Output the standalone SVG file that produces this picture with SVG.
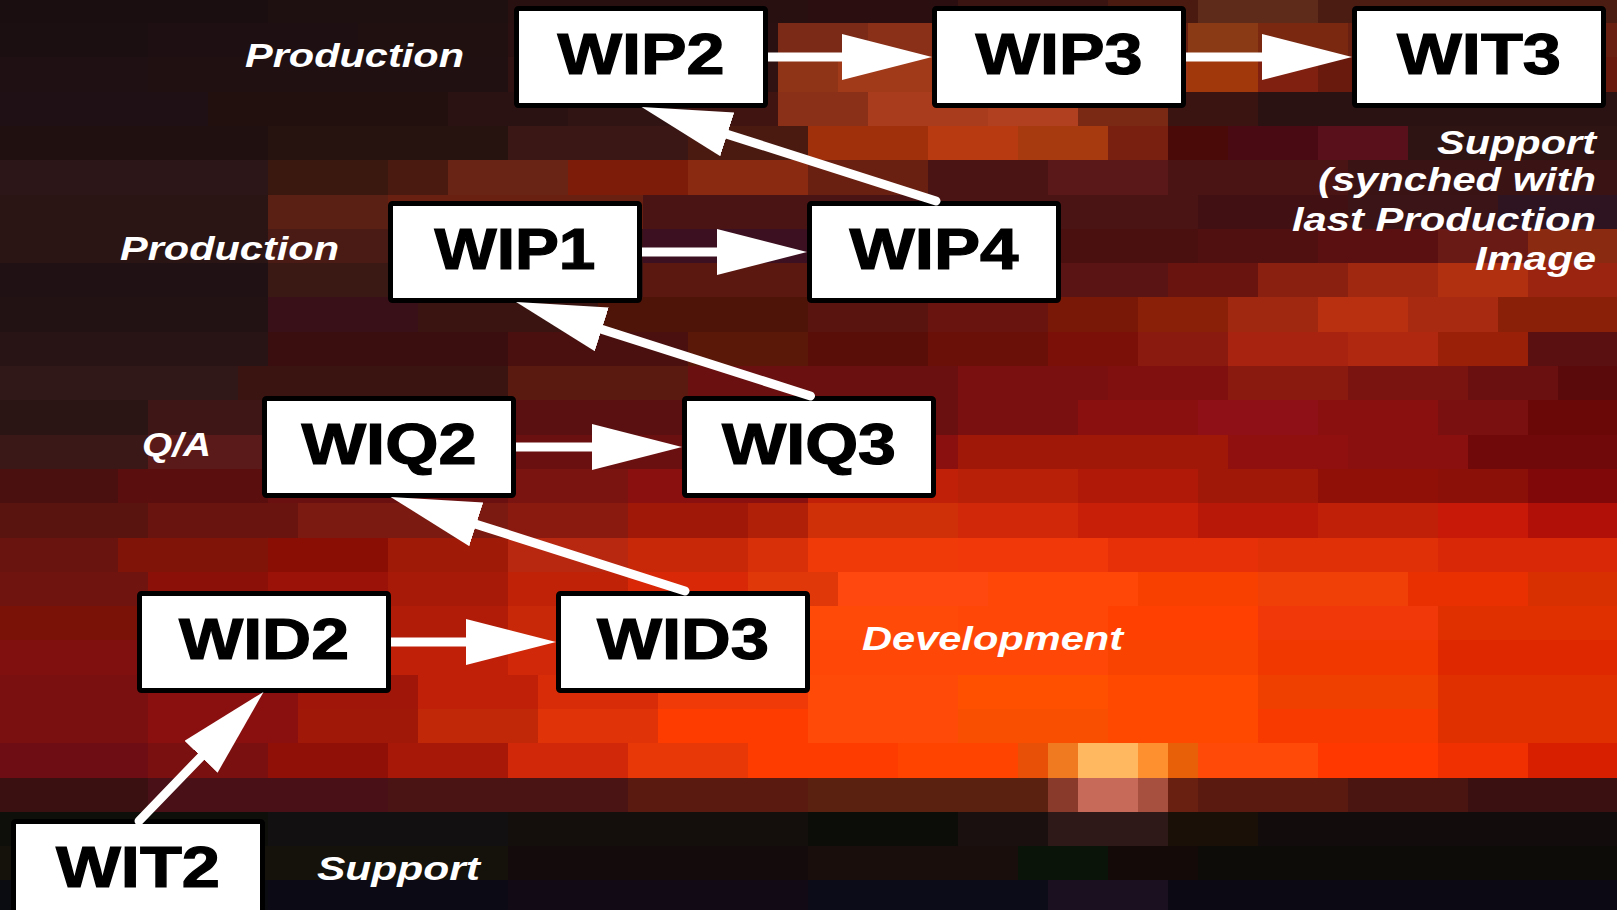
<svg xmlns="http://www.w3.org/2000/svg" width="1617" height="910" viewBox="0 0 1617 910">
<style>
.box{fill:#fff;stroke:#000;stroke-width:5;}
.nt{font-family:"Liberation Sans",Arial,sans-serif;font-weight:bold;font-size:57px;fill:#000;stroke:#000;stroke-width:1.2;text-anchor:middle;}
.lb{font-family:"Liberation Sans",Arial,sans-serif;font-weight:bold;font-style:italic;font-size:33px;fill:#fff;}
.cn{stroke:#fff;stroke-width:9;fill:none;marker-end:url(#ah);}
.dg{stroke-linecap:round;}
</style>
<defs>
<marker id="ah" markerUnits="userSpaceOnUse" markerWidth="92" markerHeight="50" refX="2" refY="23" orient="auto" viewBox="0 0 92 50">
<path d="M0,0 L90,23 L0,46 z" fill="#fff"/>
</marker>
</defs>
<g id="background">
<rect x="0" y="0" width="1617" height="910" fill="#2a1010"/>
<rect x="0" y="0" width="268" height="23" fill="#1b0e11"/><rect x="268" y="0" width="240" height="23" fill="#1e0f10"/><rect x="508" y="0" width="300" height="23" fill="#281010"/><rect x="808" y="0" width="150" height="23" fill="#2a0e10"/><rect x="958" y="0" width="150" height="23" fill="#3a1410"/><rect x="1108" y="0" width="90" height="23" fill="#4a1a10"/><rect x="1198" y="0" width="120" height="23" fill="#5e2a1a"/><rect x="1318" y="0" width="299" height="23" fill="#4a1c12"/>
<rect x="0" y="23" width="148" height="34" fill="#1c0f12"/><rect x="148" y="23" width="210" height="34" fill="#1e1012"/><rect x="358" y="23" width="150" height="34" fill="#201010"/><rect x="508" y="23" width="270" height="34" fill="#2a1010"/><rect x="778" y="23" width="90" height="34" fill="#7a2a16"/><rect x="868" y="23" width="90" height="34" fill="#8a3018"/><rect x="958" y="23" width="230" height="34" fill="#6a2010"/><rect x="1188" y="23" width="70" height="34" fill="#8a3a14"/><rect x="1258" y="23" width="90" height="34" fill="#7a2810"/><rect x="1348" y="23" width="269" height="34" fill="#6a2010"/>
<rect x="0" y="57" width="148" height="35" fill="#1e1013"/><rect x="148" y="57" width="360" height="35" fill="#201012"/><rect x="508" y="57" width="270" height="35" fill="#301212"/><rect x="778" y="57" width="60" height="35" fill="#903418"/><rect x="838" y="57" width="120" height="35" fill="#a03a18"/><rect x="958" y="57" width="230" height="35" fill="#a03818"/><rect x="1188" y="57" width="70" height="35" fill="#a0380c"/><rect x="1258" y="57" width="60" height="35" fill="#802010"/><rect x="1318" y="57" width="299" height="35" fill="#6a1a0c"/>
<rect x="0" y="92" width="208" height="34" fill="#1e1014"/><rect x="208" y="92" width="240" height="34" fill="#22100f"/><rect x="448" y="92" width="120" height="34" fill="#2a1212"/><rect x="568" y="92" width="120" height="34" fill="#301414"/><rect x="688" y="92" width="90" height="34" fill="#401410"/><rect x="778" y="92" width="90" height="34" fill="#8a3018"/><rect x="868" y="92" width="120" height="34" fill="#a83c1c"/><rect x="988" y="92" width="90" height="34" fill="#b04020"/><rect x="1078" y="92" width="90" height="34" fill="#7a2a14"/><rect x="1168" y="92" width="90" height="34" fill="#3a1410"/><rect x="1258" y="92" width="359" height="34" fill="#2a1212"/>
<rect x="0" y="126" width="268" height="34" fill="#20100f"/><rect x="268" y="126" width="240" height="34" fill="#26120f"/><rect x="508" y="126" width="180" height="34" fill="#3a1614"/><rect x="688" y="126" width="120" height="34" fill="#4a1a10"/><rect x="808" y="126" width="120" height="34" fill="#a0300c"/><rect x="928" y="126" width="90" height="34" fill="#b83a10"/><rect x="1018" y="126" width="90" height="34" fill="#a83a10"/><rect x="1108" y="126" width="60" height="34" fill="#7a2010"/><rect x="1168" y="126" width="60" height="34" fill="#4a0a08"/><rect x="1228" y="126" width="90" height="34" fill="#4a0a14"/><rect x="1318" y="126" width="90" height="34" fill="#5a101a"/><rect x="1408" y="126" width="209" height="34" fill="#2e1412"/>
<rect x="0" y="160" width="268" height="35" fill="#2c1618"/><rect x="268" y="160" width="120" height="35" fill="#3a1810"/><rect x="388" y="160" width="60" height="35" fill="#4a1a10"/><rect x="448" y="160" width="120" height="35" fill="#6a2416"/><rect x="568" y="160" width="120" height="35" fill="#7e1c0a"/><rect x="688" y="160" width="120" height="35" fill="#8a2a10"/><rect x="808" y="160" width="120" height="35" fill="#6a2010"/><rect x="928" y="160" width="120" height="35" fill="#4a1414"/><rect x="1048" y="160" width="120" height="35" fill="#5a1818"/><rect x="1168" y="160" width="180" height="35" fill="#4a1414"/><rect x="1348" y="160" width="269" height="35" fill="#3a1414"/>
<rect x="0" y="195" width="268" height="34" fill="#2a1414"/><rect x="268" y="195" width="120" height="34" fill="#5a2014"/><rect x="388" y="195" width="255" height="34" fill="#6a2010"/><rect x="643" y="195" width="555" height="34" fill="#4a1414"/><rect x="1198" y="195" width="150" height="34" fill="#401012"/><rect x="1348" y="195" width="150" height="34" fill="#3a1416"/><rect x="1498" y="195" width="119" height="34" fill="#2e1420"/>
<rect x="0" y="229" width="268" height="34" fill="#2a1414"/><rect x="268" y="229" width="120" height="34" fill="#4a1a14"/><rect x="388" y="229" width="255" height="34" fill="#3a1414"/><rect x="643" y="229" width="165" height="34" fill="#3c1020"/><rect x="808" y="229" width="390" height="34" fill="#4a1010"/><rect x="1198" y="229" width="120" height="34" fill="#501010"/><rect x="1318" y="229" width="120" height="34" fill="#5a1010"/><rect x="1438" y="229" width="90" height="34" fill="#6a1a14"/><rect x="1528" y="229" width="89" height="34" fill="#8a2a10"/>
<rect x="0" y="263" width="268" height="34" fill="#201214"/><rect x="268" y="263" width="120" height="34" fill="#3a1814"/><rect x="388" y="263" width="255" height="34" fill="#3a1410"/><rect x="643" y="263" width="165" height="34" fill="#5a1810"/><rect x="808" y="263" width="360" height="34" fill="#5a1414"/><rect x="1168" y="263" width="90" height="34" fill="#6a1410"/><rect x="1258" y="263" width="90" height="34" fill="#8a2010"/><rect x="1348" y="263" width="90" height="34" fill="#a02810"/><rect x="1438" y="263" width="90" height="34" fill="#b03010"/><rect x="1528" y="263" width="89" height="34" fill="#9a2410"/>
<rect x="0" y="297" width="268" height="35" fill="#221214"/><rect x="268" y="297" width="150" height="35" fill="#3a1018"/><rect x="418" y="297" width="180" height="35" fill="#3a1410"/><rect x="598" y="297" width="210" height="35" fill="#4e1408"/><rect x="808" y="297" width="120" height="35" fill="#5a1410"/><rect x="928" y="297" width="120" height="35" fill="#6a1410"/><rect x="1048" y="297" width="90" height="35" fill="#7a1808"/><rect x="1138" y="297" width="90" height="35" fill="#8a2008"/><rect x="1228" y="297" width="90" height="35" fill="#a02810"/><rect x="1318" y="297" width="90" height="35" fill="#b83010"/><rect x="1408" y="297" width="90" height="35" fill="#a82a10"/><rect x="1498" y="297" width="119" height="35" fill="#8a2008"/>
<rect x="0" y="332" width="268" height="34" fill="#281414"/><rect x="268" y="332" width="240" height="34" fill="#3a0e0e"/><rect x="508" y="332" width="180" height="34" fill="#4a1010"/><rect x="688" y="332" width="120" height="34" fill="#5a1808"/><rect x="808" y="332" width="120" height="34" fill="#5a0e08"/><rect x="928" y="332" width="120" height="34" fill="#6a1008"/><rect x="1048" y="332" width="90" height="34" fill="#7a1008"/><rect x="1138" y="332" width="90" height="34" fill="#8a1a10"/><rect x="1228" y="332" width="120" height="34" fill="#a82410"/><rect x="1348" y="332" width="90" height="34" fill="#b02810"/><rect x="1438" y="332" width="90" height="34" fill="#9a2008"/><rect x="1528" y="332" width="89" height="34" fill="#5a1010"/>
<rect x="0" y="366" width="238" height="34" fill="#301818"/><rect x="238" y="366" width="270" height="34" fill="#3a1410"/><rect x="508" y="366" width="180" height="34" fill="#5a1a10"/><rect x="688" y="366" width="270" height="34" fill="#6a1010"/><rect x="958" y="366" width="150" height="34" fill="#7a1010"/><rect x="1108" y="366" width="120" height="34" fill="#801010"/><rect x="1228" y="366" width="120" height="34" fill="#8a1a10"/><rect x="1348" y="366" width="120" height="34" fill="#7a1410"/><rect x="1468" y="366" width="90" height="34" fill="#6a1010"/><rect x="1558" y="366" width="59" height="34" fill="#5a0a0a"/>
<rect x="0" y="400" width="148" height="35" fill="#2a1414"/><rect x="148" y="400" width="120" height="35" fill="#3e1616"/><rect x="268" y="400" width="420" height="35" fill="#5a1010"/><rect x="688" y="400" width="270" height="35" fill="#6a1010"/><rect x="958" y="400" width="120" height="35" fill="#7a1010"/><rect x="1078" y="400" width="120" height="35" fill="#8a1010"/><rect x="1198" y="400" width="120" height="35" fill="#901018"/><rect x="1318" y="400" width="120" height="35" fill="#8a1010"/><rect x="1438" y="400" width="90" height="35" fill="#7a1010"/><rect x="1528" y="400" width="89" height="35" fill="#6a0808"/>
<rect x="0" y="435" width="148" height="34" fill="#3a1818"/><rect x="148" y="435" width="120" height="34" fill="#5a1a1a"/><rect x="268" y="435" width="420" height="34" fill="#6a1010"/><rect x="688" y="435" width="270" height="34" fill="#8a1010"/><rect x="958" y="435" width="270" height="34" fill="#a01808"/><rect x="1228" y="435" width="120" height="34" fill="#901010"/><rect x="1348" y="435" width="120" height="34" fill="#8a1010"/><rect x="1468" y="435" width="149" height="34" fill="#700a0a"/>
<rect x="0" y="469" width="118" height="34" fill="#4a1010"/><rect x="118" y="469" width="150" height="34" fill="#5a0e0e"/><rect x="268" y="469" width="240" height="34" fill="#6a1010"/><rect x="508" y="469" width="120" height="34" fill="#7a1410"/><rect x="628" y="469" width="180" height="34" fill="#8a1010"/><rect x="808" y="469" width="150" height="34" fill="#c02008"/><rect x="958" y="469" width="120" height="34" fill="#b82008"/><rect x="1078" y="469" width="120" height="34" fill="#b01808"/><rect x="1198" y="469" width="120" height="34" fill="#a01808"/><rect x="1318" y="469" width="120" height="34" fill="#901008"/><rect x="1438" y="469" width="90" height="34" fill="#8a1008"/><rect x="1528" y="469" width="89" height="34" fill="#800808"/>
<rect x="0" y="503" width="148" height="35" fill="#5a1410"/><rect x="148" y="503" width="150" height="35" fill="#6a1410"/><rect x="298" y="503" width="210" height="35" fill="#7a1a10"/><rect x="508" y="503" width="120" height="35" fill="#8a1a10"/><rect x="628" y="503" width="120" height="35" fill="#a01808"/><rect x="748" y="503" width="60" height="35" fill="#b02008"/><rect x="808" y="503" width="150" height="35" fill="#d03008"/><rect x="958" y="503" width="120" height="35" fill="#d02808"/><rect x="1078" y="503" width="120" height="35" fill="#c82008"/><rect x="1198" y="503" width="120" height="35" fill="#b81808"/><rect x="1318" y="503" width="120" height="35" fill="#c02008"/><rect x="1438" y="503" width="90" height="35" fill="#c81808"/><rect x="1528" y="503" width="89" height="35" fill="#b01008"/>
<rect x="0" y="538" width="118" height="34" fill="#6a1410"/><rect x="118" y="538" width="150" height="34" fill="#801408"/><rect x="268" y="538" width="120" height="34" fill="#8a0e04"/><rect x="388" y="538" width="120" height="34" fill="#a01a08"/><rect x="508" y="538" width="120" height="34" fill="#b82810"/><rect x="628" y="538" width="120" height="34" fill="#c82808"/><rect x="748" y="538" width="60" height="34" fill="#d83008"/><rect x="808" y="538" width="150" height="34" fill="#f03a08"/><rect x="958" y="538" width="150" height="34" fill="#f03808"/><rect x="1108" y="538" width="150" height="34" fill="#e83008"/><rect x="1258" y="538" width="180" height="34" fill="#e03008"/><rect x="1438" y="538" width="179" height="34" fill="#d82808"/>
<rect x="0" y="572" width="148" height="34" fill="#701410"/><rect x="148" y="572" width="120" height="34" fill="#8a1008"/><rect x="268" y="572" width="120" height="34" fill="#9a1208"/><rect x="388" y="572" width="120" height="34" fill="#a81a08"/><rect x="508" y="572" width="120" height="34" fill="#c02208"/><rect x="628" y="572" width="120" height="34" fill="#d82808"/><rect x="748" y="572" width="90" height="34" fill="#e03808"/><rect x="838" y="572" width="150" height="34" fill="#ff4810"/><rect x="988" y="572" width="150" height="34" fill="#ff4808"/><rect x="1138" y="572" width="120" height="34" fill="#f84000"/><rect x="1258" y="572" width="150" height="34" fill="#f04008"/><rect x="1408" y="572" width="120" height="34" fill="#e83000"/><rect x="1528" y="572" width="89" height="34" fill="#d83000"/>
<rect x="0" y="606" width="148" height="34" fill="#7a1208"/><rect x="148" y="606" width="240" height="34" fill="#901008"/><rect x="388" y="606" width="120" height="34" fill="#b01c08"/><rect x="508" y="606" width="120" height="34" fill="#c82808"/><rect x="628" y="606" width="180" height="34" fill="#e03408"/><rect x="808" y="606" width="150" height="34" fill="#ff4a08"/><rect x="958" y="606" width="150" height="34" fill="#ff4808"/><rect x="1108" y="606" width="150" height="34" fill="#ff4000"/><rect x="1258" y="606" width="180" height="34" fill="#f03808"/><rect x="1438" y="606" width="179" height="34" fill="#e03000"/>
<rect x="0" y="640" width="148" height="35" fill="#801010"/><rect x="148" y="640" width="240" height="35" fill="#901008"/><rect x="388" y="640" width="120" height="35" fill="#c02008"/><rect x="508" y="640" width="120" height="35" fill="#d02808"/><rect x="628" y="640" width="180" height="35" fill="#e83808"/><rect x="808" y="640" width="300" height="35" fill="#ff4808"/><rect x="1108" y="640" width="150" height="35" fill="#f84400"/><rect x="1258" y="640" width="180" height="35" fill="#f03800"/><rect x="1438" y="640" width="179" height="35" fill="#e02800"/>
<rect x="0" y="675" width="148" height="34" fill="#7a1010"/><rect x="148" y="675" width="150" height="34" fill="#8a1010"/><rect x="298" y="675" width="120" height="34" fill="#a01608"/><rect x="418" y="675" width="120" height="34" fill="#c02008"/><rect x="538" y="675" width="120" height="34" fill="#d82c08"/><rect x="658" y="675" width="150" height="34" fill="#f03a08"/><rect x="808" y="675" width="150" height="34" fill="#ff4a08"/><rect x="958" y="675" width="150" height="34" fill="#ff5000"/><rect x="1108" y="675" width="150" height="34" fill="#ff4800"/><rect x="1258" y="675" width="180" height="34" fill="#f04000"/><rect x="1438" y="675" width="179" height="34" fill="#e03000"/>
<rect x="0" y="709" width="148" height="34" fill="#7a1010"/><rect x="148" y="709" width="150" height="34" fill="#8a1010"/><rect x="298" y="709" width="120" height="34" fill="#a01808"/><rect x="418" y="709" width="120" height="34" fill="#c02808"/><rect x="538" y="709" width="120" height="34" fill="#e03408"/><rect x="658" y="709" width="150" height="34" fill="#ff3c00"/><rect x="808" y="709" width="150" height="34" fill="#ff4a08"/><rect x="958" y="709" width="150" height="34" fill="#f85000"/><rect x="1108" y="709" width="150" height="34" fill="#ff4800"/><rect x="1258" y="709" width="180" height="34" fill="#f83a00"/><rect x="1438" y="709" width="179" height="34" fill="#e03000"/>
<rect x="0" y="743" width="148" height="35" fill="#6e0e14"/><rect x="148" y="743" width="120" height="35" fill="#7a1010"/><rect x="268" y="743" width="120" height="35" fill="#901008"/><rect x="388" y="743" width="120" height="35" fill="#a81808"/><rect x="508" y="743" width="120" height="35" fill="#d02808"/><rect x="628" y="743" width="120" height="35" fill="#e83808"/><rect x="748" y="743" width="150" height="35" fill="#ff3c00"/><rect x="898" y="743" width="120" height="35" fill="#ff4400"/><rect x="1018" y="743" width="30" height="35" fill="#e85008"/><rect x="1048" y="743" width="30" height="35" fill="#f07a20"/><rect x="1078" y="743" width="60" height="35" fill="#ffb860"/><rect x="1138" y="743" width="30" height="35" fill="#ff9030"/><rect x="1168" y="743" width="30" height="35" fill="#e86008"/><rect x="1198" y="743" width="120" height="35" fill="#ff4a08"/><rect x="1318" y="743" width="120" height="35" fill="#ff3800"/><rect x="1438" y="743" width="90" height="35" fill="#f03000"/><rect x="1528" y="743" width="89" height="35" fill="#d82000"/>
<rect x="0" y="778" width="148" height="34" fill="#3a1010"/><rect x="148" y="778" width="240" height="34" fill="#4a1018"/><rect x="388" y="778" width="240" height="34" fill="#4a1414"/><rect x="628" y="778" width="180" height="34" fill="#5a1a10"/><rect x="808" y="778" width="240" height="34" fill="#5a2010"/><rect x="1048" y="778" width="30" height="34" fill="#8a3a2a"/><rect x="1078" y="778" width="60" height="34" fill="#c86a5a"/><rect x="1138" y="778" width="30" height="34" fill="#a85040"/><rect x="1168" y="778" width="30" height="34" fill="#6a2010"/><rect x="1198" y="778" width="150" height="34" fill="#5a1a10"/><rect x="1348" y="778" width="120" height="34" fill="#4a1410"/><rect x="1468" y="778" width="149" height="34" fill="#3a1010"/>
<rect x="0" y="812" width="268" height="34" fill="#0e0e0a"/><rect x="268" y="812" width="240" height="34" fill="#121010"/><rect x="508" y="812" width="300" height="34" fill="#140e0c"/><rect x="808" y="812" width="150" height="34" fill="#0c0c08"/><rect x="958" y="812" width="90" height="34" fill="#1a1010"/><rect x="1048" y="812" width="120" height="34" fill="#2e1818"/><rect x="1168" y="812" width="90" height="34" fill="#1a1008"/><rect x="1258" y="812" width="359" height="34" fill="#120c0c"/>
<rect x="0" y="846" width="508" height="34" fill="#14120a"/><rect x="508" y="846" width="300" height="34" fill="#140c0c"/><rect x="808" y="846" width="210" height="34" fill="#1a0e0c"/><rect x="1018" y="846" width="90" height="34" fill="#0a1408"/><rect x="1108" y="846" width="90" height="34" fill="#140a08"/><rect x="1198" y="846" width="419" height="34" fill="#0e0c08"/>
<rect x="0" y="880" width="268" height="30" fill="#0a0c12"/><rect x="268" y="880" width="240" height="30" fill="#0c0a14"/><rect x="508" y="880" width="300" height="30" fill="#120a14"/><rect x="808" y="880" width="240" height="30" fill="#0c0c18"/><rect x="1048" y="880" width="120" height="30" fill="#1a1020"/><rect x="1168" y="880" width="449" height="30" fill="#0c0814"/>
</g>
<g id="labels">
<text class="lb" x="245" y="67" textLength="219" lengthAdjust="spacingAndGlyphs">Production</text>
<text class="lb" x="120" y="260" textLength="219" lengthAdjust="spacingAndGlyphs">Production</text>
<text class="lb" x="142" y="456" textLength="69" lengthAdjust="spacingAndGlyphs">Q/A</text>
<text class="lb" x="862" y="650" textLength="261" lengthAdjust="spacingAndGlyphs">Development</text>
<text class="lb" x="317" y="880" textLength="163" lengthAdjust="spacingAndGlyphs">Support</text>
<text class="lb" x="1437" y="154" textLength="159" lengthAdjust="spacingAndGlyphs">Support</text>
<text class="lb" x="1318" y="191" textLength="278" lengthAdjust="spacingAndGlyphs">(synched with</text>
<text class="lb" x="1292" y="231" textLength="304" lengthAdjust="spacingAndGlyphs">last Production</text>
<text class="lb" x="1475" y="270" textLength="121" lengthAdjust="spacingAndGlyphs">Image</text>
</g>
<g id="node-WIP2"><rect class="box" x="516.5" y="8.5" width="249" height="97" rx="2"/><text class="nt" x="641" y="74" textLength="167" lengthAdjust="spacingAndGlyphs">WIP2</text></g>
<g id="node-WIP3"><rect class="box" x="934.5" y="8.5" width="249" height="97" rx="2"/><text class="nt" x="1059" y="74" textLength="167" lengthAdjust="spacingAndGlyphs">WIP3</text></g>
<g id="node-WIT3"><rect class="box" x="1354.5" y="8.5" width="249" height="97" rx="2"/><text class="nt" x="1479" y="74" textLength="164" lengthAdjust="spacingAndGlyphs">WIT3</text></g>
<g id="node-WIP1"><rect class="box" x="390.5" y="203.5" width="249" height="97" rx="2"/><text class="nt" x="515" y="269" textLength="161" lengthAdjust="spacingAndGlyphs">WIP1</text></g>
<g id="node-WIP4"><rect class="box" x="809.5" y="203.5" width="249" height="97" rx="2"/><text class="nt" x="934" y="269" textLength="169" lengthAdjust="spacingAndGlyphs">WIP4</text></g>
<g id="node-WIQ2"><rect class="box" x="264.5" y="398.5" width="249" height="97" rx="2"/><text class="nt" x="389" y="464" textLength="175" lengthAdjust="spacingAndGlyphs">WIQ2</text></g>
<g id="node-WIQ3"><rect class="box" x="684.5" y="398.5" width="249" height="97" rx="2"/><text class="nt" x="809" y="464" textLength="174" lengthAdjust="spacingAndGlyphs">WIQ3</text></g>
<g id="node-WID2"><rect class="box" x="139.5" y="593.5" width="249" height="97" rx="2"/><text class="nt" x="264" y="659" textLength="170" lengthAdjust="spacingAndGlyphs">WID2</text></g>
<g id="node-WID3"><rect class="box" x="558.5" y="593.5" width="249" height="97" rx="2"/><text class="nt" x="683" y="659" textLength="172" lengthAdjust="spacingAndGlyphs">WID3</text></g>
<g id="node-WIT2"><rect class="box" x="13.5" y="821.5" width="249" height="97" rx="2"/><text class="nt" x="138" y="887" textLength="164" lengthAdjust="spacingAndGlyphs">WIT2</text></g>
<g id="connectors">
<line class="cn" x1="768" y1="57" x2="844" y2="57"/>
<line class="cn" x1="1186" y1="57" x2="1264" y2="57"/>
<line class="cn" x1="642" y1="252" x2="719" y2="252"/>
<line class="cn" x1="516" y1="447" x2="594" y2="447"/>
<line class="cn" x1="391" y1="642" x2="468" y2="642"/>
<line class="cn dg" x1="936" y1="201" x2="725.4" y2="133.7"/>
<line class="cn dg" x1="810.5" y1="396" x2="599.9" y2="328.7"/>
<line class="cn dg" x1="685" y1="591" x2="474.4" y2="523.7"/>
<line class="cn dg" x1="139" y1="821" x2="202.4" y2="755.3"/>
</g>
</svg>
